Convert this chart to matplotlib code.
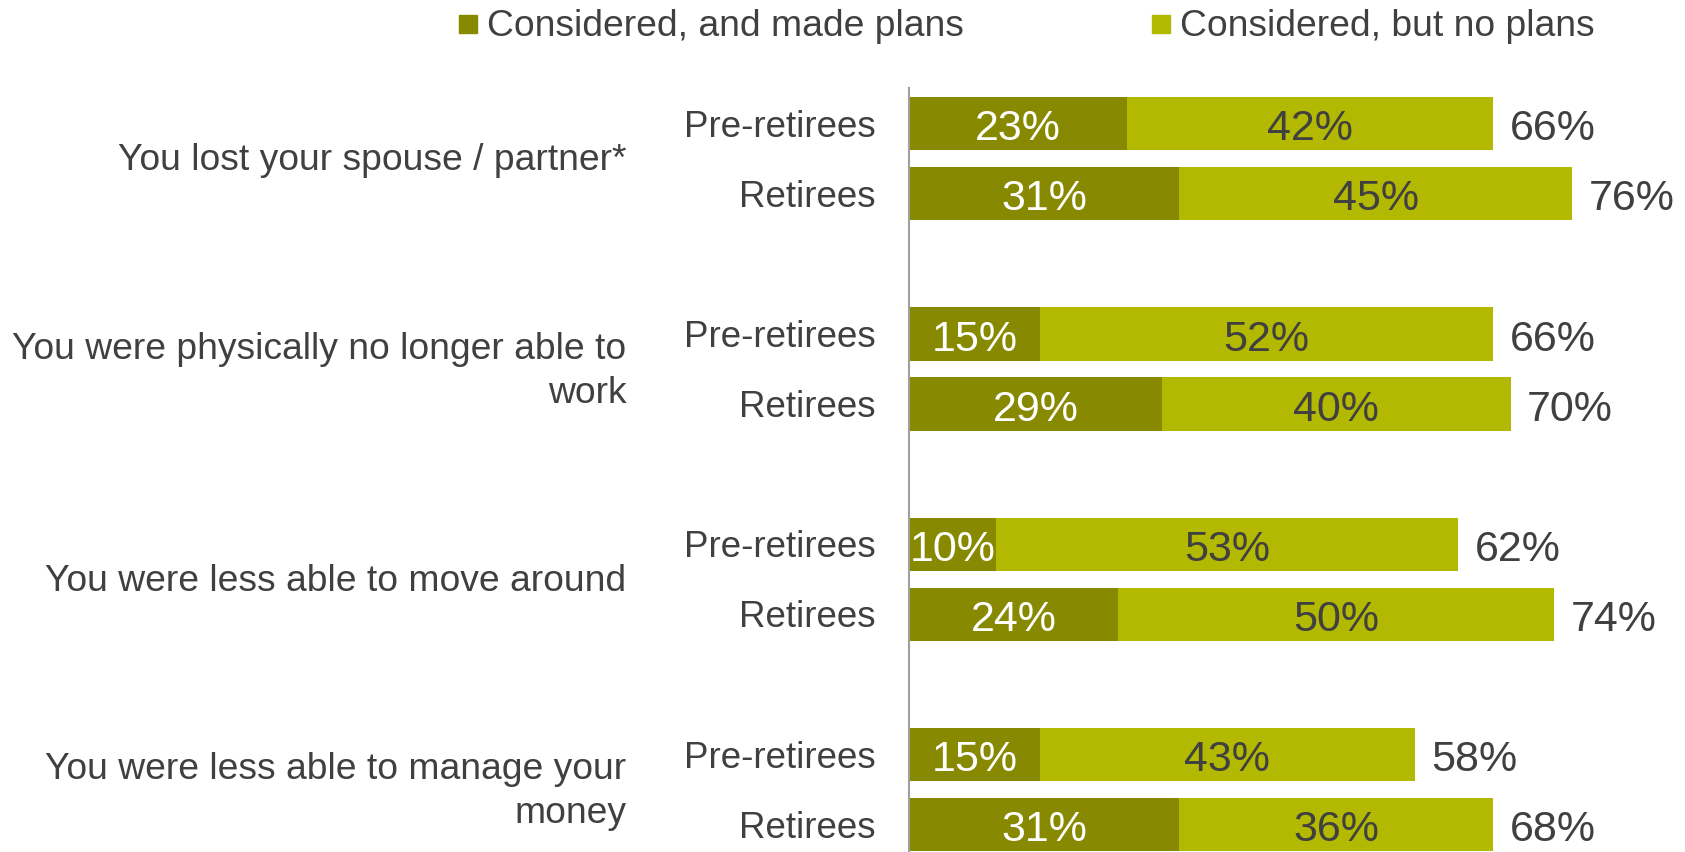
import matplotlib.pyplot as plt
from matplotlib.patches import Rectangle

plt.rcParams['font.family'] = ['Liberation Sans', 'DejaVu Sans']

# data
categories = ["You lost your spouse / partner*",
              "You were physically no longer able to\nwork",
              "You were less able to move around",
              "You were less able to manage your\nmoney"]
groups = ["Pre-retirees", "Retirees"]

# bar lengths as drawn, and the numbers printed on them
made_bar = [25, 31, 15, 29, 10, 24, 15, 31]
made_pct = [23, 31, 15, 29, 10, 24, 15, 31]
noplan_pct = [42, 45, 52, 40, 53, 50, 43, 36]
total_pct = [66, 76, 66, 70, 62, 74, 58, 68]

dark = '#878a00'
light = '#b3b800'
txt = '#404040'

fig = plt.figure(figsize=(16.85, 8.52), dpi=100)
ax = fig.add_axes([909 / 1685, 0, 776 / 1685, 1 - 88 / 852])

ypos = [3 * (i // 2) + (i % 2) for i in range(len(made_bar))]

ax.barh(ypos, made_bar, height=0.76, color=dark, edgecolor='none')
ax.barh(ypos, noplan_pct, left=made_bar, height=0.76, color=light, edgecolor='none')

dy = 0.08  # nudge text down a little
for y, m, mp, n, t in zip(ypos, made_bar, made_pct, noplan_pct, total_pct):
    ax.text(m / 2, y + dy, f"{mp}%", ha='center', va='center', color='white', fontsize=31)
    ax.text(m + n / 2, y + dy, f"{n}%", ha='center', va='center', color=txt, fontsize=31)
    ax.text(m + n + 1.9, y + dy, f"{t}%", ha='left', va='center', color=txt, fontsize=31)
    ax.text(-3.8, y + 0.05, groups[y % 3], ha='right', va='center', color=txt, fontsize=26.5)

for i, c in enumerate(categories):
    ax.text(-32.4, 3 * i + 0.53, c, ha='right', va='center', color=txt,
            fontsize=26.8, linespacing=1.34)

ax.set_xlim(0, 776 / 8.72)
ax.set_ylim(10.39, -0.51)
ax.set_xticks([])
ax.set_yticks([])
for s in ['top', 'right', 'bottom']:
    ax.spines[s].set_visible(False)
ax.spines['left'].set_color('#a0a0a0')
ax.spines['left'].set_linewidth(1.5)

# legend
legend = [("Considered, and made plans", dark, 459), ("Considered, but no plans", light, 1152)]
for lab, col, x0 in legend:
    fig.patches.append(Rectangle((x0 / 1685, 1 - 33 / 852), 18 / 1685, 18 / 852,
                                 transform=fig.transFigure, color=col))
    fig.text((x0 + 28) / 1685, 1 - 26 / 852, lab, ha='left', va='center',
             color=txt, fontsize=26.8)

plt.savefig("out.png", dpi=100)
